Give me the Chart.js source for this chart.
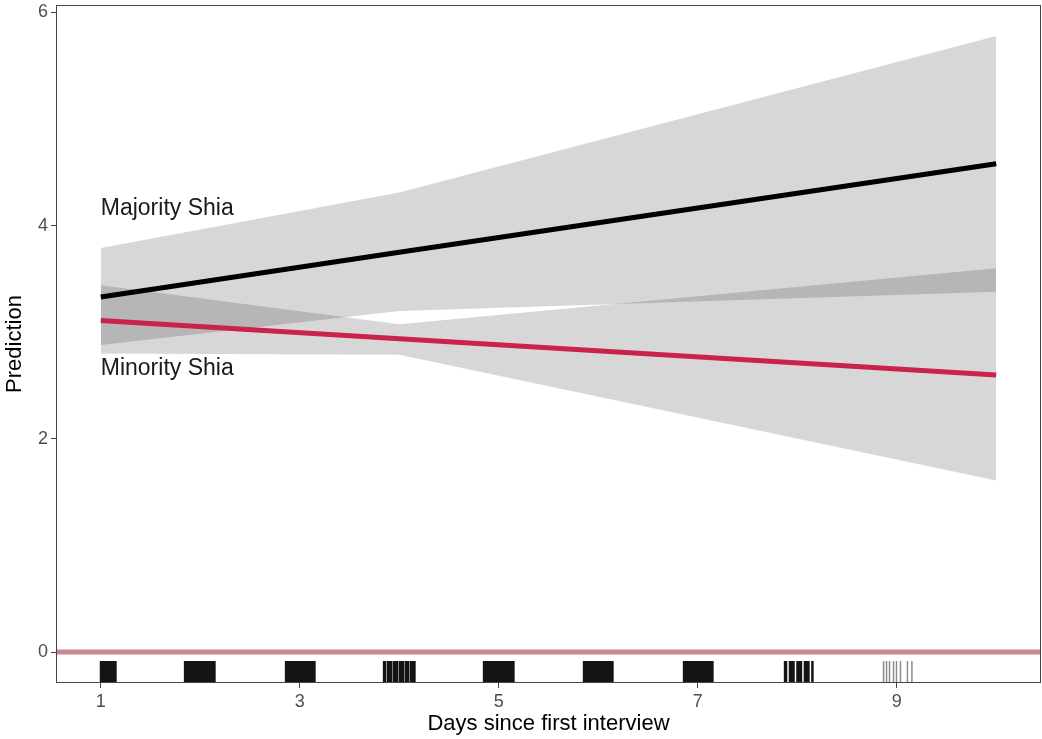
<!DOCTYPE html>
<html>
<head>
<meta charset="utf-8">
<script src="https://cdn.jsdelivr.net/npm/chart.js@4/dist/chart.umd.min.js"></script>
<style>
  body { margin: 0; background: #fff; }
  #wrap { width: 1042px; height: 739px; }
</style>
</head>
<body>
<div id="wrap"><canvas id="predChart" width="1042" height="739"></canvas></div>
<script>
const dayKnots = [1, 4, 10];

const majorityPred = [3.33, 3.75, 4.58];
const majorityUpper = [3.79, 4.31, 5.78];
const majorityLower = [2.88, 3.20, 3.38];

const minorityPred = [3.11, 2.94, 2.60];
const minorityUpper = [3.44, 3.075, 3.60];
const minorityLower = [2.80, 2.79, 1.61];

const groupNames = ['Majority Shia', 'Minority Shia'];
const labelDay = [1, 1];
const labelValue = [4.16, 2.66];

const xTicks = [1, 3, 5, 7, 9];
const yTicks = [0, 2, 4, 6];

// rug: spans of interview times (day units)
const rugSpans = [
  [0.99, 1.16],
  [1.835, 2.155],
  [2.85, 3.16],
  [3.835, 3.87], [3.875, 3.93], [3.934, 3.99], [3.994, 4.05], [4.054, 4.10], [4.104, 4.165],
  [4.84, 5.16],
  [5.845, 6.155],
  [6.85, 7.16],
  [7.865, 7.90], [7.915, 7.975], [7.99, 8.05], [8.065, 8.125], [8.14, 8.165],
  [8.86, 8.872], [8.89, 8.902], [8.92, 8.935], [8.96, 8.97], [8.99, 9.0], [9.03, 9.045], [9.10, 9.115], [9.145, 9.16]
];

const pts = vals => vals.map((v, i) => ({ x: dayKnots[i], y: v }));
const bandFill = 'rgba(15,15,15,0.17)';

const extras = {
  id: 'extras',
  afterDatasetsDraw(chart) {
    const { ctx, chartArea, scales } = chart;
    const x = scales.x, y = scales.y;
    ctx.save();
    // zero reference line
    const y0 = y.getPixelForValue(0);
    ctx.strokeStyle = '#c98a8f';
    ctx.lineWidth = 5;
    ctx.beginPath();
    ctx.moveTo(chartArea.left, y0);
    ctx.lineTo(chartArea.right, y0);
    ctx.stroke();
    // rug
    rugSpans.forEach(([a, b]) => {
      const xa = x.getPixelForValue(a), xb = x.getPixelForValue(b);
      ctx.fillStyle = (b - a) < 0.02 ? 'rgba(0,0,0,0.45)' : 'rgba(0,0,0,0.92)';
      ctx.fillRect(xa, chartArea.bottom - 22, Math.max(1.5, xb - xa), 21);
    });
    // group labels
    ctx.fillStyle = '#1a1a1a';
    ctx.font = '23px "Liberation Sans", Arial, sans-serif';
    ctx.textBaseline = 'middle';
    ctx.textAlign = 'left';
    groupNames.forEach((n, i) => {
      ctx.fillText(n, x.getPixelForValue(labelDay[i]), y.getPixelForValue(labelValue[i]));
    });
    ctx.restore();
  },
  afterDraw(chart) {
    const { ctx, chartArea } = chart;
    ctx.save();
    ctx.strokeStyle = '#444';
    ctx.lineWidth = 1;
    ctx.strokeRect(chartArea.left + 0.5, chartArea.top + 0.5,
      chartArea.right - chartArea.left - 1, chartArea.bottom - chartArea.top - 1);
    ctx.restore();
  }
};

const tickFont = { family: '"Liberation Sans", Arial, sans-serif', size: 18 };
const titleFont = { family: '"Liberation Sans", Arial, sans-serif', size: 22 };

new Chart(document.getElementById('predChart').getContext('2d'), {
  type: 'line',
  data: {
    datasets: [
      { data: pts(majorityUpper), fill: '+1', backgroundColor: bandFill, borderWidth: 0, pointRadius: 0 },
      { data: pts(majorityLower), fill: false, borderWidth: 0, pointRadius: 0 },
      { data: pts(minorityUpper), fill: '+1', backgroundColor: bandFill, borderWidth: 0, pointRadius: 0 },
      { data: pts(minorityLower), fill: false, borderWidth: 0, pointRadius: 0 },
      { data: pts(majorityPred), borderColor: '#000', borderWidth: 5, pointRadius: 0, fill: false },
      { data: pts(minorityPred), borderColor: '#c9234c', borderWidth: 5, pointRadius: 0, fill: false }
    ]
  },
  options: {
    responsive: false,
    animation: false,
    layout: { padding: { top: 5, right: 1, left: 0, bottom: 0 } },
    plugins: {
      legend: { display: false },
      tooltip: { enabled: false },
      filler: { drawTime: 'beforeDatasetsDraw' }
    },
    scales: {
      x: {
        type: 'linear', min: 0.55, max: 10.45,
        afterBuildTicks: s => { s.ticks = xTicks.map(v => ({ value: v })); },
        afterFit: s => { s.height = 56; s.paddingLeft = 0; s.paddingRight = 0; },
        grid: { drawOnChartArea: false, drawTicks: true, tickLength: 5, color: '#444' },
        border: { display: false },
        ticks: { font: tickFont, color: '#4d4d4d', padding: 3, maxRotation: 0 },
        title: { display: true, text: 'Days since first interview', font: titleFont, color: '#000', padding: { top: 0, bottom: 2 } }
      },
      y: {
        type: 'linear', min: -0.29, max: 6.07,
        afterBuildTicks: s => { s.ticks = yTicks.map(v => ({ value: v })); },
        afterFit: s => { s.width = 56; s.paddingTop = 0; s.paddingBottom = 0; },
        grid: { drawOnChartArea: false, drawTicks: true, tickLength: 5, color: '#444' },
        border: { display: false },
        ticks: { font: tickFont, color: '#4d4d4d', padding: 3 },
        title: { display: true, text: 'Prediction', font: titleFont, color: '#000', padding: { top: 2, bottom: 0 } }
      }
    }
  },
  plugins: [extras]
});
</script>
</body>
</html>
